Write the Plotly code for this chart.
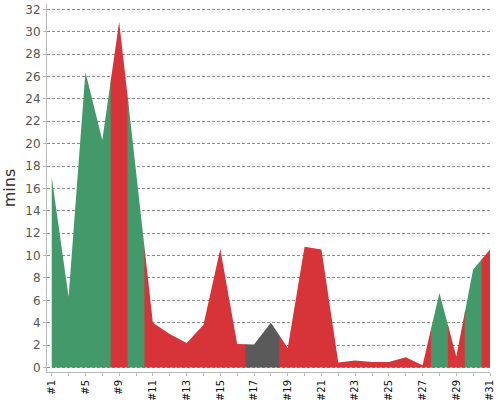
import plotly.graph_objects as go

categories = ["#1", "#3", "#5", "#7", "#9", "#10", "#11", "#12", "#13", "#14", "#15", "#16",
              "#17", "#18", "#19", "#20", "#21", "#22", "#23", "#24", "#25", "#26", "#27",
              "#28", "#29", "#30", "#31"]
values = [17.0, 6.3, 26.4, 20.3, 30.9, 17.6, 4.0, 3.0, 2.2, 3.8, 10.6, 2.1,
          2.05, 4.0, 1.75, 10.8, 10.55, 0.45, 0.62, 0.5, 0.5, 0.92, 0.2,
          6.65, 0.98, 8.75, 10.55]
status = ["g", "g", "g", "g", "r", "g", "r", "r", "r", "r", "r", "r",
          "k", "k", "r", "r", "r", "r", "r", "r", "r", "r", "r",
          "g", "r", "g", "r"]

colors = {"g": "rgb(67,153,106)", "r": "rgb(214,52,56)", "k": "rgb(90,90,90)"}

n = len(values)


def interp(x):
    i = int(x)
    if i >= n - 1:
        return values[-1]
    f = x - i
    return values[i] * (1 - f) + values[i + 1] * f


fig = go.Figure()

runs = []
start = 0
for i in range(1, n + 1):
    if i == n or status[i] != status[start]:
        runs.append((start, i - 1, status[start]))
        start = i

overlap = 0.04
for a, b, s in runs:
    x0 = max(a - 0.5, 0)
    x1 = min(b + 0.5 + overlap, n - 1)
    xs = [x0] + list(range(a, b + 1)) + [x1]
    ys = [interp(x0)] + values[a:b + 1] + [interp(x1)]
    fig.add_trace(go.Scatter(
        x=xs, y=ys, mode="lines", line=dict(width=0),
        fill="tozeroy", fillcolor=colors[s], showlegend=False, hoverinfo="skip"))

ticktext = [c if i % 2 == 0 else "" for i, c in enumerate(categories)]

fig.update_layout(
    width=500, height=400,
    margin=dict(l=47, r=10, t=4, b=28, autoexpand=False),
    plot_bgcolor="white", paper_bgcolor="white",
    font=dict(family="DejaVu Sans", color="#555"),
    xaxis=dict(
        range=[-0.28, n - 1], tickmode="array", tickvals=list(range(n)), ticktext=ticktext,
        tickangle=-90, tickfont=dict(size=10, color="#111"), automargin=False,
        showgrid=False, zeroline=False, showline=True, linecolor="#bbb", linewidth=1,
        ticks="outside", ticklen=3, tickcolor="#bbb", layer="above traces"),
    yaxis=dict(
        range=[-0.4, 32.48], tickmode="linear", tick0=0, dtick=2, automargin=False,
        tickfont=dict(size=12, color="#555"),
        showgrid=True, gridcolor="rgba(100,100,100,0.75)", griddash="3px,2px", gridwidth=1,
        zeroline=False, showline=True, linecolor="#bbb", linewidth=1,
        ticks="outside", ticklen=3, tickcolor="#bbb", layer="above traces",
        title=dict(text="mins", font=dict(size=16, color="#333"), standoff=5)),
)

fig.write_html("out.html", config={"displayModeBar": False},
               post_script="document.body.style.margin='0';")
